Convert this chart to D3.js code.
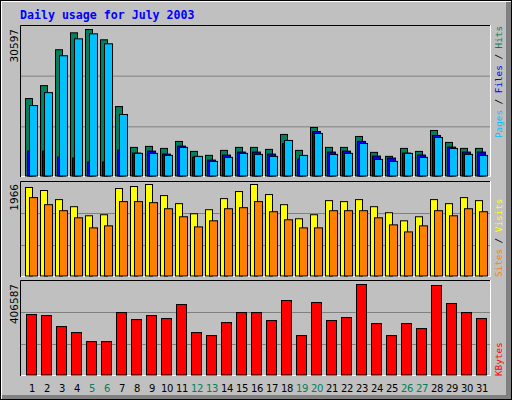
<!DOCTYPE html><html><head><meta charset="utf-8"><script src="https://cdn.jsdelivr.net/npm/d3@7"></script>
<style>body{margin:0}svg{display:block}</style></head><body><script>
const days=d3.range(1,32);
const weekend=[5,6,12,13,19,20,26,27];
const hits=[16270,18950,26400,29910,30597,28460,14610,6140,6350,5930,7380,5310,4490,5520,6140,6140,5730,8830,5520,10270,6140,6140,8410,5110,4280,5930,5310,9650,7170,5930,5930];
const files=[5370,5370,4130,3930,3100,3100,5580,4960,5370,4750,6410,4130,3510,4550,5170,5170,4750,6960,3720,9440,5170,5370,7380,4340,3930,4960,4550,8620,6200,5170,5170];
const pages=[14820,17500,25150,28660,29700,27630,12960,4900,4900,4480,6140,4280,3240,4070,4900,4690,4280,7580,4480,9030,4690,4900,6960,3650,3240,4900,4070,8200,5930,4690,4480];
const visits=[1902,1838,1645,1494,1301,1323,1880,1923,1966,1730,1559,1344,1430,1666,1816,1966,1752,1537,1237,1323,1623,1602,1645,1494,1366,1194,1280,1645,1559,1687,1623];
const sites=[1687,1537,1409,1258,1044,1087,1602,1602,1580,1451,1280,1065,1194,1451,1473,1602,1387,1216,1044,1044,1409,1409,1409,1258,1108,958,1087,1409,1301,1451,1387];
const kbytes=[273040,268590,219620,192910,152840,152840,281940,250780,268590,255230,317550,192910,179550,237420,281940,281940,246330,335360,179550,326460,246330,259680,406587,232970,179550,232970,210710,402130,322000,281940,255230];
const maxLabels=["30597","1966","406587"];

const svg=d3.select("body").append("svg").attr("width",512).attr("height",400);
svg.append("rect").attr("x",0).attr("y",0).attr("width",512).attr("height",400).attr("fill","#000");
svg.append("rect").attr("x",1).attr("y",1).attr("width",510).attr("height",398).attr("fill","#fff");
svg.append("rect").attr("x",2).attr("y",2).attr("width",509).attr("height",397).attr("fill","#808080");
svg.append("rect").attr("x",2).attr("y",2).attr("width",504).attr("height",393).attr("fill","#c0c0c0");

svg.append("text").attr("x",20).attr("y",19).text("Daily usage for July 2003")
 .attr("font-family","DejaVu Sans Mono").attr("font-weight","bold").attr("font-size",11.6).attr("fill","#0000ff");

const x=d3.scaleBand().domain(days).range([25,490]).paddingInner(0);
const panels=[{t:25,b:177,top:29},{t:181,b:277,top:184},{t:280,b:376,top:284}];
function panel(p){
  const g=svg.append("g");
  g.append("rect").attr("x",20).attr("y",p.t).attr("width",471).attr("height",p.b-p.t).attr("fill","#c0c0c0");
  const h=(p.b-p.t)/3;
  [1,2].forEach(i=>g.append("line").attr("x1",21).attr("x2",490).attr("y1",p.t+h*i+0.5).attr("y2",p.t+h*i+0.5).attr("stroke","#808080"));
  g.append("path").attr("d",`M20.5,${p.b}V${p.t+0.5}H491`).attr("fill","none").attr("stroke","#000");
  g.append("path").attr("d",`M21,${p.b-0.5}H490.5V${p.t}`).attr("fill","none").attr("stroke","#fff");
}
panels.forEach(panel);

function bars(vals,max,p,off,w,color){
  const y=d3.scaleLinear().domain([0,max]).range([p.b-0.5,p.top]);
  svg.append("g").selectAll("rect").data(vals).join("rect")
   .attr("x",(d,i)=>x(days[i])+off+0.5).attr("y",d=>y(d)+0.5)
   .attr("width",w).attr("height",d=>y(0)-y(d)-1)
   .attr("fill",color).attr("stroke","#000").attr("stroke-width",1);
}
bars(hits,30597,panels[0],0,7,"#00805c");
bars(files,30597,panels[0],2,8,"#0000ff");
bars(pages,30597,panels[0],4,8,"#00c0ff");
bars(visits,1966,panels[1],0,7,"#ffff00");
bars(sites,1966,panels[1],4,8,"#ff8000");
bars(kbytes,406587,panels[2],1,10,"#ff0000");

svg.append("g").selectAll("text").data(days).join("text")
 .attr("x",d=>x(d)+7).attr("y",392).attr("text-anchor","middle")
 .attr("font-family","DejaVu Sans").attr("font-size",10).attr("letter-spacing",-0.3)
 .attr("fill",d=>weekend.includes(d)?"#00805c":"#000").text(d=>d);

maxLabels.forEach((t,i)=>{
  svg.append("text").attr("transform",`translate(18,${panels[i].top}) rotate(-90)`)
   .attr("text-anchor","end").attr("font-family","DejaVu Sans").attr("font-size",10.5).attr("fill","#000").text(t);
});

function sideLabel(parts,bottomY){
  const t=svg.append("text").attr("transform",`translate(502,${bottomY}) rotate(-90)`)
   .attr("font-family","DejaVu Sans Mono").attr("font-size",9.3);
  parts.forEach(([s,c])=>t.append("tspan").attr("fill",c).text(s));
}
sideLabel([["Pages","#00c0ff"],[" / ","#000"],["Files","#0000ff"],[" / ","#000"],["Hits","#00805c"]],138);
sideLabel([["Sites","#ff8000"],[" / ","#000"],["Visits","#ffff00"]],277);
sideLabel([["KBytes","#ff0000"]],376);
</script></body></html>
